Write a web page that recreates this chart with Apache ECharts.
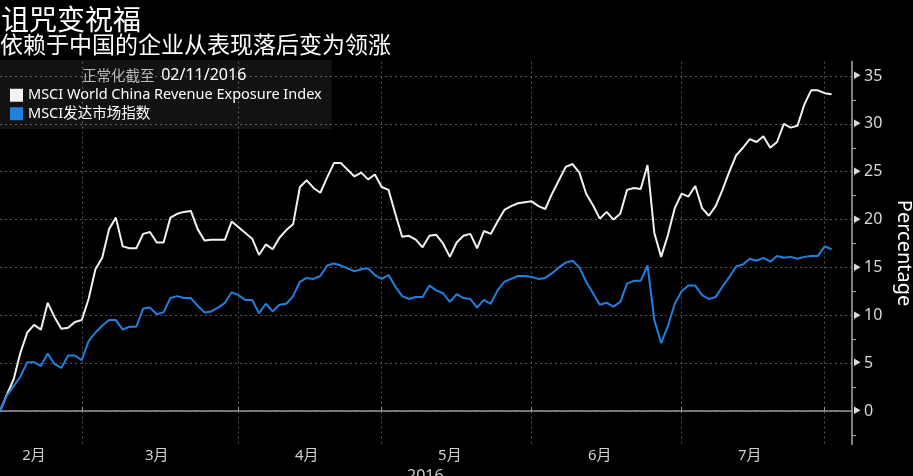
<!DOCTYPE html>
<html>
<head>
<meta charset="utf-8">
<script src="https://cdn.jsdelivr.net/npm/echarts@6/dist/echarts.min.js"></script>
<style>
html, body { margin: 0; padding: 0; background: #000; }
#chart { width: 913px; height: 476px; }
</style>
</head>
<body>
<div id="chart"></div>
<script>
// trading days, normalized at 02/11/2016 (axis runs a few days past the last point)
const startDate = '2016-02-11'
const endDate = '2016-08-05'
const skipDays = ['2016-02-15']

const seriesNames = ['MSCI World China Revenue Exposure Index', 'MSCI发达市场指数']

const chinaRevenue = [
  0, 1.7, 3.3, 6.1, 8.2, 9.0, 8.5, 11.3, 9.8, 8.6, 8.7, 9.3,
  9.5, 11.7, 14.8, 16.0, 19.0, 20.2, 17.2, 17.0, 17.0, 18.5, 18.7, 17.6,
  17.6, 20.2, 20.6, 20.8, 20.9, 19.0, 17.8, 17.9, 17.9, 17.9, 19.8,
  19.2, 18.6, 18.0, 16.3, 17.4, 16.9, 18.1, 18.9, 19.5, 23.4, 24.1,
  23.3, 22.8, 24.4, 25.9, 25.9, 25.2, 24.5, 24.9, 24.2, 24.7,
  23.4, 23.1, 20.6, 18.2, 18.3, 17.9, 17.1, 18.3, 18.4, 17.5, 16.1,
  17.6, 18.3, 18.5, 17.0, 18.8, 18.5, 19.8, 21.0, 21.4, 21.7, 21.8,
  21.9, 21.4, 21.1, 22.7, 24.1, 25.5, 25.8, 24.9, 22.7, 21.5, 20.1,
  20.8, 20.0, 20.6, 23.1, 23.3, 23.2, 25.7, 18.6, 16.1, 18.4, 21.2,
  22.7, 22.4, 23.5, 21.2, 20.4, 21.4, 23.1, 25.0, 26.7, 27.5, 28.4,
  28.1, 28.7, 27.5, 28.1, 30.0, 29.6, 29.8, 32.0, 33.5, 33.5,
  33.2, 33.1
]

const developed = [
  0, 1.6, 2.6, 3.6, 5.1, 5.1, 4.7, 6.0, 4.9, 4.5, 5.8, 5.8,
  5.3, 7.3, 8.2, 8.9, 9.5, 9.5, 8.5, 8.8, 8.8, 10.7, 10.8, 10.1,
  10.3, 11.8, 12.0, 11.8, 11.8, 11.0, 10.3, 10.4, 10.8, 11.3, 12.4,
  12.1, 11.6, 11.6, 10.2, 11.2, 10.4, 11.1, 11.2, 12.0, 13.5, 13.9,
  13.8, 14.1, 15.2, 15.4, 15.2, 14.9, 14.6, 14.8, 14.9, 14.2,
  13.8, 14.2, 13.0, 12.0, 11.7, 11.9, 11.9, 13.1, 12.6, 12.3, 11.4,
  12.2, 11.8, 11.7, 10.8, 11.6, 11.2, 12.6, 13.5, 13.8, 14.1, 14.1,
  14.0, 13.8, 13.9, 14.4, 15.0, 15.5, 15.7, 15.0, 13.5, 12.3, 11.1,
  11.3, 10.9, 11.4, 13.3, 13.6, 13.6, 15.2, 9.5, 7.1, 8.9, 11.2,
  12.5, 13.1, 13.1, 12.1, 11.7, 11.9, 13.0, 14.0, 15.1, 15.3, 15.9,
  15.7, 16.0, 15.6, 16.2, 16.0, 16.1, 15.9, 16.1, 16.2, 16.2,
  17.2, 16.9
]

const dates = []
for (let d = new Date(startDate + 'T00:00:00Z'); d <= new Date(endDate + 'T00:00:00Z'); d.setUTCDate(d.getUTCDate() + 1)) {
  const s = d.toISOString().slice(0, 10)
  const wd = d.getUTCDay()
  if (wd === 0 || wd === 6 || skipDays.includes(s)) continue
  dates.push(s)
}

// month boundaries and label spots
const monthStart = new Set()
const labelIdx = new Set()
let first = 0
for (let i = 1; i <= dates.length; i++) {
  if (i === dates.length || dates[i].slice(5, 7) !== dates[i - 1].slice(5, 7)) {
    if (i < dates.length) monthStart.add(i)
    if (i - first > 6) labelIdx.add(Math.floor((first + i - 1) / 2))
    first = i
  }
}

const fontFamily = "'Noto Sans', 'Noto Sans CJK SC', sans-serif"
const cjkFont = "'Noto Sans CJK SC', sans-serif"

const chart = echarts.init(document.getElementById('chart'))
chart.setOption({
  backgroundColor: '#000',
  animation: false,
  textStyle: { fontFamily: fontFamily },
  grid: {
    left: 0,
    right: 61,
    top: 61.6,
    bottom: 31.5,
    containLabel: false,
    outerBoundsMode: 'none'
  },
  legend: {
    left: 0,
    top: 60,
    orient: 'vertical',
    icon: 'rect',
    itemWidth: 13,
    itemHeight: 13,
    itemGap: 4,
    padding: [28, 10, 8, 10],
    backgroundColor: 'rgba(255,255,255,0.07)',
    selectedMode: false,
    textStyle: { color: '#fff', fontSize: 14.5, fontFamily: fontFamily }
  },
  graphic: [
    {
      type: 'text', left: 1, top: 5, z: 100,
      style: { text: '诅咒变祝福', fill: '#fff', font: '28px ' + cjkFont }
    },
    {
      type: 'text', left: 0, top: 33, z: 100,
      style: { text: '依赖于中国的企业从表现落后变为领涨', fill: '#fff', font: '23px ' + cjkFont }
    },
    {
      type: 'text', left: 82, top: 67, z: 100,
      style: {
        text: '{a|正常化截至}  {b|02/11/2016}',
        rich: {
          a: { fill: '#bbb', fontSize: 14.5, fontFamily: cjkFont },
          b: { fill: '#fff', fontSize: 16, fontFamily: fontFamily }
        }
      }
    },
    {
      type: 'text', left: 407, top: 468, z: 100,
      style: { text: '2016', fill: '#ccc', font: '16px ' + fontFamily }
    }
  ],
  xAxis: {
    type: 'category',
    data: dates,
    boundaryGap: false,
    axisLine: { lineStyle: { color: '#999', width: 1.5 } },
    axisTick: {
      show: true,
      inside: true,
      length: 4,
      interval: (i) => monthStart.has(i),
      lineStyle: { color: '#999' }
    },
    axisLabel: {
      interval: (i) => labelIdx.has(i),
      formatter: (v) => Number(v.slice(5, 7)) + '月',
      color: '#d0d0d0',
      fontSize: 15,
      margin: 4,
      fontFamily: fontFamily
    },
    splitLine: {
      show: true,
      interval: (i) => monthStart.has(i),
      lineStyle: { color: '#555', type: [2, 3], width: 1 }
    }
  },
  yAxis: {
    type: 'value',
    position: 'right',
    min: -3.5,
    max: 36.5,
    splitNumber: 8,
    axisLine: { show: true, lineStyle: { color: '#aaa', width: 1.5 } },
    axisTick: { show: false },
    minorTick: { show: true, splitNumber: 2, length: 4, lineStyle: { color: '#aaa' } },
    axisLabel: {
      showMinLabel: false,
      showMaxLabel: false,
      margin: 1,
      color: '#d8d8d8',
      fontSize: 16,
      formatter: (v) => '{t|▶}' + v,
      rich: { t: { fontSize: 8, color: '#ddd', padding: [0, 3, 0, 0] } }
    },
    splitLine: {
      show: true,
      showMinLine: false,
      showMaxLine: false,
      lineStyle: { color: '#555', type: [2, 3], width: 1 }
    },
    name: 'Percentage',
    nameLocation: 'middle',
    nameRotate: -90,
    nameGap: 42,
    nameTextStyle: { color: '#fff', fontSize: 20 }
  },
  series: [
    {
      name: seriesNames[0],
      type: 'line',
      data: chinaRevenue,
      symbol: 'none',
      color: '#f2f2f2',
      lineStyle: { width: 2 }
    },
    {
      name: seriesNames[1],
      type: 'line',
      data: developed,
      symbol: 'none',
      color: '#1f80e0',
      lineStyle: { width: 2 }
    }
  ]
})
</script>
</body>
</html>
